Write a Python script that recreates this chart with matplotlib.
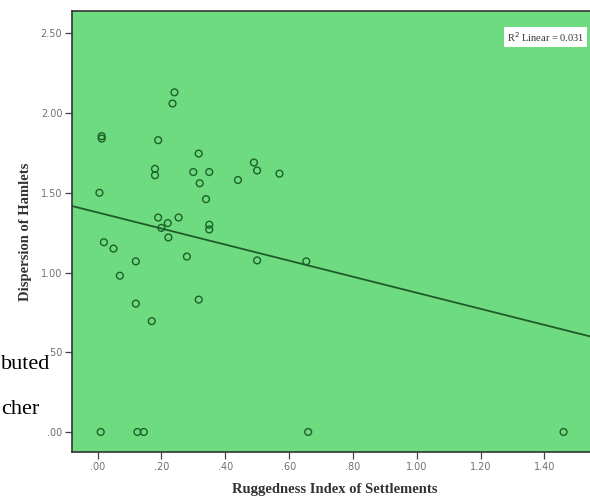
import numpy as np
import matplotlib
matplotlib.use("Agg")
import matplotlib.pyplot as plt
from matplotlib.ticker import FuncFormatter

# Ruggedness index (x) vs dispersion of hamlets (y)
rugged = [0.241, 0.235, 0.013, 0.013, 0.19, 0.317, 0.18, 0.18, 0.30, 0.35,
          0.32, 0.34, 0.006, 0.49, 0.50, 0.57, 0.44, 0.35, 0.35, 0.654,
          0.50, 0.19, 0.254, 0.22, 0.20, 0.222, 0.02, 0.05, 0.12, 0.28,
          0.07, 0.12, 0.317, 0.17, 0.01, 0.125, 0.145, 0.66, 1.46]
dispersion = [2.13, 2.06, 1.84, 1.855, 1.83, 1.746, 1.65, 1.61, 1.63, 1.63,
              1.56, 1.46, 1.50, 1.69, 1.64, 1.62, 1.58, 1.30, 1.27, 1.07,
              1.076, 1.345, 1.345, 1.31, 1.28, 1.22, 1.19, 1.15, 1.07, 1.10,
              0.98, 0.805, 0.83, 0.695, 0.0, 0.0, 0.0, 0.0, 0.0]

xticks = [0.0, 0.2, 0.4, 0.6, 0.8, 1.0, 1.2, 1.4]
yticks = [0.0, 0.5, 1.0, 1.5, 2.0, 2.5]
r2_text = "R$^2$ Linear = 0.031"

x = np.array(rugged)
y = np.array(dispersion)
slope, intercept = np.polyfit(x, y, 1)  # linear fit line

fig = plt.figure(figsize=(5.9, 5.01), dpi=100)
ax = fig.add_axes([0.122, 0.098, 0.89, 0.88])
ax.set_facecolor("#6fdb80")

ax.scatter(x, y, s=24, facecolors="none", edgecolors="#1a6229", linewidths=1.0, zorder=3)

xs = np.array([-0.2, 1.8])
ax.plot(xs, intercept + slope * xs, color="#1f5a2a", lw=1.3, zorder=2)

ax.set_xlim(-0.08, 1.565)
ax.set_ylim(-0.125, 2.64)
ax.set_xticks(xticks)
ax.set_yticks(yticks)
fmt = FuncFormatter(lambda v, p: ("%.2f" % v).lstrip("0") if v < 1 else "%.2f" % v)
ax.xaxis.set_major_formatter(fmt)
ax.yaxis.set_major_formatter(fmt)
ax.tick_params(direction="out", length=5, width=0.9, pad=2, labelsize=7,
               labelcolor="#707070", color="#444444")
for s in ax.spines.values():
    s.set_color("#333333")
    s.set_linewidth(1.2)

ax.set_xlabel("Ruggedness Index of Settlements", family="Liberation Serif",
              fontweight="bold", fontsize=10.5, color="#333333", labelpad=8)
ax.set_ylabel("Dispersion of Hamlets", family="Liberation Serif",
              fontweight="bold", fontsize=10.5, color="#333333", labelpad=6)

ax.text(0.975, 0.941, r2_text, transform=ax.transAxes, ha="right", va="center",
        fontsize=7.5, family="Liberation Serif", color="#333333",
        bbox=dict(facecolor="white", edgecolor="none", pad=2))

# fragments of the surrounding page text
fig.text(0.002, 0.272, "buted", family="Liberation Serif", fontsize=16, ha="left", va="center")
fig.text(0.002, 0.182, "cher", family="Liberation Serif", fontsize=16, ha="left", va="center")

fig.savefig("out.png", dpi=100)
